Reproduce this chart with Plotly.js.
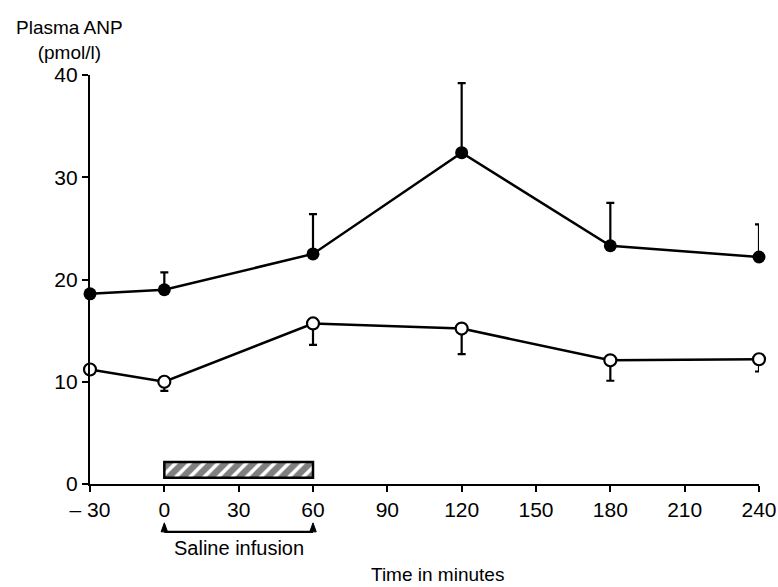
<!DOCTYPE html>
<html>
<head>
<meta charset="utf-8">
<script src="https://cdn.plot.ly/plotly-3.0.1.min.js"></script>
<style>html,body{margin:0;padding:0;background:#fff;}#chart{width:778px;height:587px;}</style>
</head>
<body>
<div id="chart"></div>
<script>
// Data
const timeMin = [-30, 0, 60, 120, 180, 240];
const filledANP = [18.6, 19.0, 22.5, 32.4, 23.3, 22.2];
const filledSEup = [0, 1.7, 3.9, 6.8, 4.2, 3.2];
const openANP = [11.2, 10.0, 15.7, 15.2, 12.1, 12.2];
const openSEdown = [0, 0.9, 2.1, 2.5, 2.0, 1.2];
const xTicks = [-30, 0, 30, 60, 90, 120, 150, 180, 210, 240];
const yTicks = [0, 10, 20, 30, 40];
const infusionStart = 0;
const infusionEnd = 60;
const infusionBarLow = 0.6;
const infusionBarHigh = 2.15;

const FONT = "Liberation Sans, Arial, Helvetica, sans-serif";

const traces = [
  {
    type: 'bar', orientation: 'h',
    y: [(infusionBarLow + infusionBarHigh) / 2],
    x: [infusionEnd - infusionStart],
    base: [infusionStart],
    width: [infusionBarHigh - infusionBarLow],
    marker: {
      color: '#fff',
      line: {color: '#000', width: 2.5},
      pattern: {shape: '/', fgcolor: '#000', bgcolor: '#fff', size: 10, solidity: 0.65, fillmode: 'overlay'}
    },
    hoverinfo: 'skip', showlegend: false
  },
  {
    type: 'scatter', mode: 'lines+markers',
    x: timeMin, y: filledANP,
    line: {color: '#000', width: 2.5},
    marker: {color: '#000', size: 13, symbol: 'circle'},
    error_y: {type: 'data', symmetric: false, array: filledSEup, arrayminus: filledSEup.map(() => 0), color: '#000', thickness: 2.2, width: 4},
    cliponaxis: false, showlegend: false
  },
  {
    type: 'scatter', mode: 'lines+markers',
    x: timeMin, y: openANP,
    line: {color: '#000', width: 2.5},
    marker: {color: '#fff', size: 12, symbol: 'circle', line: {color: '#000', width: 2.2}},
    error_y: {type: 'data', symmetric: false, array: openSEdown.map(() => 0), arrayminus: openSEdown, color: '#000', thickness: 2.2, width: 4},
    cliponaxis: false, showlegend: false
  }
];

const bracketY = -0.117;
const arrowTipY = -0.095;
const arrowHalf = 1.3;
const shapes = [
  {type: 'line', xref: 'x', yref: 'paper', x0: infusionStart, x1: infusionEnd, y0: bracketY, y1: bracketY, line: {color: '#000', width: 2.2}},
  {type: 'path', xref: 'x', yref: 'paper',
   path: `M ${infusionStart - arrowHalf} ${bracketY} L ${infusionStart} ${arrowTipY} L ${infusionStart + arrowHalf} ${bracketY} Z`,
   fillcolor: '#000', line: {color: '#000', width: 1}},
  {type: 'path', xref: 'x', yref: 'paper',
   path: `M ${infusionEnd - arrowHalf} ${bracketY} L ${infusionEnd} ${arrowTipY} L ${infusionEnd + arrowHalf} ${bracketY} Z`,
   fillcolor: '#000', line: {color: '#000', width: 1}}
];

const layout = {
  width: 778, height: 587,
  margin: {l: 90, r: 19, t: 75, b: 103},
  paper_bgcolor: '#fff', plot_bgcolor: '#fff',
  font: {family: FONT, color: '#000', size: 21},
  showlegend: false,
  xaxis: {
    range: [-30, 240], tickvals: xTicks, ticktext: xTicks.map(v => v < 0 ? '\u2013 ' + Math.abs(v) : String(v)),
    showline: true, linecolor: '#000', linewidth: 2.2,
    ticks: 'outside', ticklen: 6, tickwidth: 2, tickcolor: '#000',
    showgrid: false, zeroline: false, tickfont: {size: 21, family: FONT}
  },
  yaxis: {
    range: [0, 40], tickvals: yTicks,
    showline: true, linecolor: '#000', linewidth: 2.2,
    ticks: 'outside', ticklen: 6, tickwidth: 2, tickcolor: '#000',
    showgrid: false, zeroline: false, tickfont: {size: 21, family: FONT}
  },
  shapes: shapes,
  annotations: [
    {text: 'Plasma ANP<br>(pmol/l)', xref: 'paper', yref: 'paper', x: -0.03, y: 1.0, xanchor: 'center', yanchor: 'bottom', yshift: 10, showarrow: false, font: {size: 19, family: FONT}, align: 'center'},
    {text: 'Saline infusion', xref: 'x', yref: 'paper', x: 30, y: -0.157, xanchor: 'center', yanchor: 'middle', showarrow: false, font: {size: 20, family: FONT}},
    {text: 'Time in minutes', xref: 'paper', yref: 'paper', x: 0.52, y: -0.221, xanchor: 'center', yanchor: 'middle', showarrow: false, font: {size: 19, family: FONT}}
  ]
};

Plotly.newPlot('chart', traces, layout, {displayModeBar: false, staticPlot: true});
</script>
</body>
</html>
